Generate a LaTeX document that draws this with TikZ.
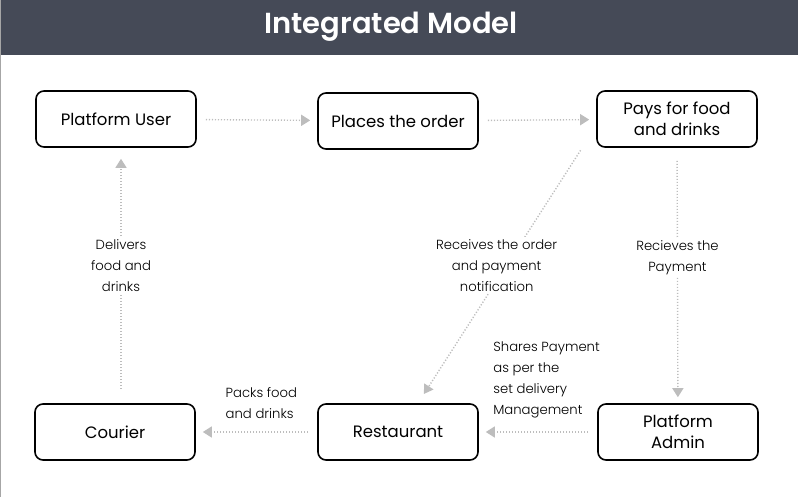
\documentclass[tikz,border=0pt]{standalone}
\usepackage{fontspec}
\setmainfont{Poppins}
\newfontfamily\lightfont{Poppins Light}
\newfontfamily\titlefont{Poppins SemiBold}
\usetikzlibrary{arrows.meta}
\definecolor{headgrey}{HTML}{454A57}
\definecolor{flowgrey}{HTML}{BDBDBD}

\begin{document}
\begin{tikzpicture}[x=1pt,y=-1pt,
  box/.style={draw,line width=1.6pt,rounded corners=8pt,minimum width=160pt,
    minimum height=56pt,align=center,font=\fontsize{16.5}{21}\selectfont},
  flow/.style={flowgrey,line width=1.4pt,dash pattern=on 1.2pt off 1.8pt,
    -{Triangle[length=9pt,width=11pt]},shorten <=9pt,shorten >=7pt},
  lbl/.style={fill=white,text=black,align=center,inner sep=2pt,
    font=\lightfont\fontsize{13.2}{21}\selectfont}]
  \useasboundingbox (0,0) rectangle (798,497);
  \fill[headgrey] (0,0) rectangle (798,55);
  \node[text=white,font=\titlefont\fontsize{29}{32}\selectfont] (title) at (391,27) {Integrated Model};
  \draw[gray!70,line width=1pt] (0,0) rectangle (798,497);
  % the six actors
  \node[box] (user) at (116,119) {Platform User};
  \node[box] (order) at (398,121) {Places the order};
  \node[box] (pays) at (677,119) {Pays for food\\and drinks};
  \node[box] (courier) at (115,432) {Courier};
  \node[box] (rest) at (398,432) {Restaurant};
  \node[box] (admin) at (678,432) {Platform\\Admin};
  % flows
  \draw[flow] (user) -- (order);
  \draw[flow] (order) -- (pays);
  \draw[flow,shorten <=3pt,shorten >=11pt] ([xshift=-14pt]pays.south west) -- node[lbl,pos=0.46,xshift=-10pt]{Receives the order\\and payment\\notification} ([xshift=20pt]rest.north);
  \draw[flow,shorten <=13pt,shorten >=6pt] (pays) -- node[lbl,pos=0.43]{Recieves the\\Payment} (admin);
  \draw[flow] (admin) -- node[lbl,fill=none,pos=0.9,anchor=south west,yshift=11pt,align=left]{Shares Payment\\as per the\\set delivery\\Management} (rest);
  \draw[flow] (rest) -- node[lbl,fill=none,pos=0.46,anchor=south,yshift=11pt,align=left]{Packs food\\and drinks} (courier);
  \draw[flow,shorten <=14pt,shorten >=11pt] ([xshift=6pt]courier.north) -- node[lbl,pos=0.54]{Delivers\\food and\\drinks} ([xshift=5pt]user.south);
\end{tikzpicture}
\end{document}
